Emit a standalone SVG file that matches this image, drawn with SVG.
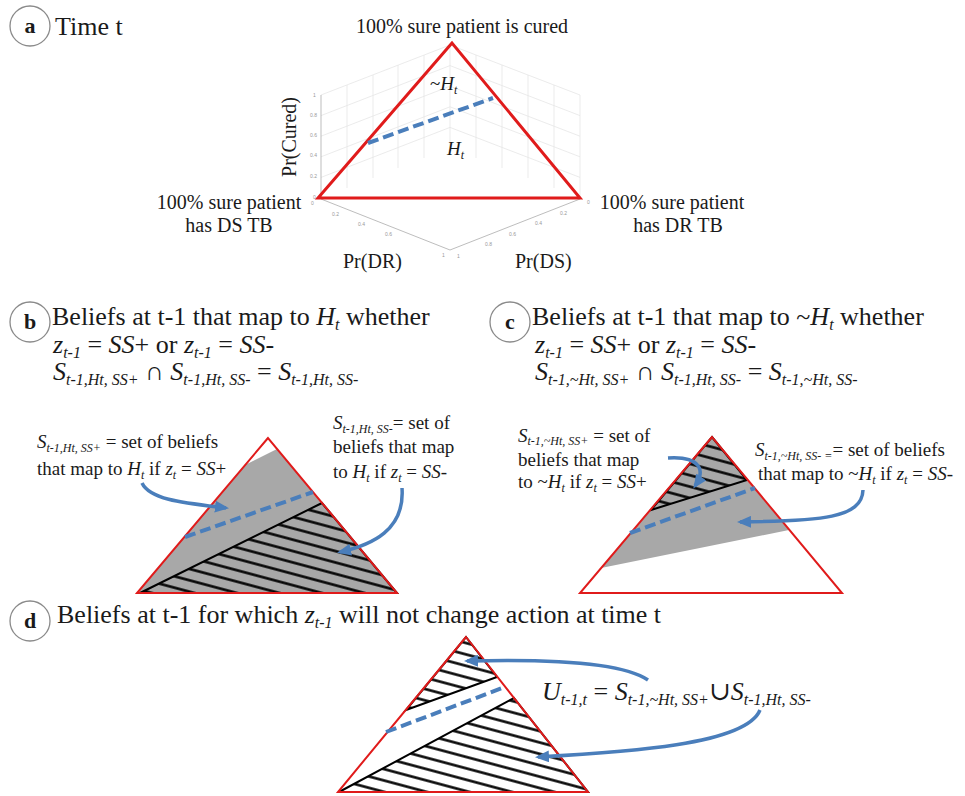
<svg xmlns="http://www.w3.org/2000/svg" width="965" height="796" viewBox="0 0 965 796">
<style>
.t{font-family:"Liberation Serif","Times New Roman","DejaVu Serif",serif;fill:#1a1a1a}
.h{font-size:26px}
.l{font-size:19px}
.m{font-size:20px}
.i{font-style:italic}
.lab{font-size:22px;font-weight:bold;text-anchor:middle}
.circ{fill:none;stroke:#8a8a8a;stroke-width:1.3}
.tri{fill:none;stroke:#e01b1b;stroke-width:2}
.dash{stroke:#4a7ebb;stroke-width:4;stroke-dasharray:11 5;fill:none}
.arr{stroke:#4a7ebb;stroke-width:3.5;fill:none;marker-end:url(#ah)}
.gray{fill:#a8a8a8}
.hatch{fill:url(#hp);stroke:#000;stroke-width:2}
.grid{stroke:#e6e6e6;stroke-width:0.8;fill:none}
.ax{stroke:#b5b5b5;stroke-width:0.9;fill:none}
.tick{font-family:"Liberation Sans",Arial,sans-serif;font-size:5px;fill:#999}
</style>
<defs>
<pattern id="hp" patternUnits="userSpaceOnUse" width="40" height="11" patternTransform="rotate(15)">
<line x1="-5" y1="5.5" x2="45" y2="5.5" stroke="#000" stroke-width="2.6"/>
</pattern>
<marker id="ah" markerUnits="userSpaceOnUse" markerWidth="14" markerHeight="12" refX="11" refY="6" orient="auto">
<path d="M0,0 L14,6 L0,12 z" fill="#4a7ebb"/>
</marker>
</defs>

<g id="panel-a">
<circle class="circ" cx="30" cy="26" r="20"/>
<text class="t lab" x="30" y="33">a</text>
<text class="t h" x="55" y="35">Time t</text>
<g id="axes-a">
<path class="grid" d="M321,177.4 L450,127.4 L580,177.4 M321,156.8 L450,106.8 L580,156.8 M321,136.2 L450,86.2 L580,136.2 M321,115.6 L450,65.6 L580,115.6 M321,95 L450,45 L580,95 M450,45 L450,148 M347,188 L347,85 M373,178 L373,75 M398,168 L398,65 M424,158 L424,55 M476,158 L476,55 M502,168 L502,65 M528,178 L528,75 M554,188 L554,85 M580,95 L580,198"/>
<path class="ax" d="M321,95 L321,198 M321,199 L450,250 L580,199"/>
<text class="tick" x="313" y="97">1</text>
<text class="tick" x="310" y="117">0.8</text>
<text class="tick" x="310" y="137">0.6</text>
<text class="tick" x="310" y="157">0.4</text>
<text class="tick" x="310" y="178">0.2</text>
<text class="tick" x="313" y="199">0</text>
<text class="tick" x="311" y="205">0</text>
<text class="tick" x="332" y="216">0.2</text>
<text class="tick" x="358" y="226">0.4</text>
<text class="tick" x="385" y="236">0.6</text>
<text class="tick" x="442" y="257">1</text>
<text class="tick" x="587" y="204">0</text>
<text class="tick" x="560" y="215">0.2</text>
<text class="tick" x="535" y="225">0.4</text>
<text class="tick" x="509" y="236">0.6</text>
<text class="tick" x="485" y="246">0.8</text>
<text class="tick" x="457" y="258">1</text>
</g>
<path class="tri" style="stroke-width:3" d="M452,43 L318,198 L580,198 Z"/>
<line class="dash" x1="368" y1="143" x2="493" y2="98"/>
<text class="t l" x="430" y="90">~<tspan class="i">H</tspan><tspan class="i" font-size="12" dy="4">t</tspan></text>
<text class="t l" x="447" y="155"><tspan class="i">H</tspan><tspan class="i" font-size="12" dy="4">t</tspan></text>
<text class="t m" x="462" y="33" text-anchor="middle">100% sure patient is cured</text>
<text class="t m" x="229" y="209" text-anchor="middle">100% sure patient</text>
<text class="t m" x="229" y="232" text-anchor="middle">has DS TB</text>
<text class="t m" x="672" y="209" text-anchor="middle">100% sure patient</text>
<text class="t m" x="678" y="232" text-anchor="middle">has DR TB</text>
<text class="t m" transform="translate(296,137) rotate(-90)" text-anchor="middle">Pr(Cured)</text>
<text class="t m" x="343" y="268">Pr(DR)</text>
<text class="t m" x="515" y="268">Pr(DS)</text>
</g>

<g id="panel-b">
<circle class="circ" cx="30" cy="322" r="20"/>
<text class="t lab" x="30" y="329">b</text>
<text class="t h" x="52" y="325">Beliefs at t-1 that map to <tspan class="i">H</tspan><tspan class="i" font-size="16" dy="5">t</tspan><tspan dy="-5"> whether</tspan></text>
<text class="t h" x="53" y="353"><tspan class="i">z</tspan><tspan class="i" font-size="16" dy="5">t-1</tspan><tspan dy="-5"> = </tspan><tspan class="i">SS</tspan>+ or <tspan class="i">z</tspan><tspan class="i" font-size="16" dy="5">t-1</tspan><tspan dy="-5"> = </tspan><tspan class="i">SS</tspan>-</text>
<text class="t h" x="53" y="380"><tspan class="i">S</tspan><tspan class="i" font-size="16" dy="5">t-1,Ht, SS+</tspan><tspan dy="-5"> ∩ </tspan><tspan class="i">S</tspan><tspan class="i" font-size="16" dy="5">t-1,Ht, SS-</tspan><tspan dy="-5"> = </tspan><tspan class="i">S</tspan><tspan class="i" font-size="16" dy="5">t-1,Ht, SS-</tspan></text>
<polygon class="gray" points="277,449 245,465 137,593 397,593"/>
<polygon class="hatch" points="322,503 140,593 397,593"/>
<path class="tri" d="M268,438 L137,593 L397,593 Z"/>
<line class="dash" x1="185" y1="537" x2="313" y2="492"/>
<text class="t l" x="37" y="448"><tspan class="i">S</tspan><tspan class="i" font-size="12" dy="4">t-1,Ht, SS+</tspan><tspan dy="-4"> = set of beliefs</tspan></text>
<text class="t l" x="37" y="475">that map to <tspan class="i">H</tspan><tspan class="i" font-size="12" dy="4">t</tspan><tspan dy="-4"> if </tspan><tspan class="i">z</tspan><tspan class="i" font-size="12" dy="4">t</tspan><tspan dy="-4"> = </tspan><tspan class="i">SS</tspan>+</text>
<text class="t l" x="333" y="429"><tspan class="i">S</tspan><tspan class="i" font-size="12" dy="4">t-1,Ht, SS-</tspan><tspan dy="-4">= set of</tspan></text>
<text class="t l" x="333" y="453">beliefs that map</text>
<text class="t l" x="333" y="478">to <tspan class="i">H</tspan><tspan class="i" font-size="12" dy="4">t</tspan><tspan dy="-4"> if </tspan><tspan class="i">z</tspan><tspan class="i" font-size="12" dy="4">t</tspan><tspan dy="-4"> = </tspan><tspan class="i">SS</tspan>-</text>
</g>

<g id="panel-c">
<circle class="circ" cx="510" cy="322" r="20"/>
<text class="t lab" x="510" y="329">c</text>
<text class="t h" x="532" y="325">Beliefs at t-1 that map to ~<tspan class="i">H</tspan><tspan class="i" font-size="16" dy="5">t</tspan><tspan dy="-5"> whether</tspan></text>
<text class="t h" x="535" y="353"><tspan class="i">z</tspan><tspan class="i" font-size="16" dy="5">t-1</tspan><tspan dy="-5"> = </tspan><tspan class="i">SS</tspan>+ or <tspan class="i">z</tspan><tspan class="i" font-size="16" dy="5">t-1</tspan><tspan dy="-5"> = </tspan><tspan class="i">SS</tspan>-</text>
<text class="t h" x="535" y="380"><tspan class="i">S</tspan><tspan class="i" font-size="16" dy="5">t-1,~Ht, SS+</tspan><tspan dy="-5"> ∩ </tspan><tspan class="i">S</tspan><tspan class="i" font-size="16" dy="5">t-1,Ht, SS-</tspan><tspan dy="-5"> = </tspan><tspan class="i">S</tspan><tspan class="i" font-size="16" dy="5">t-1,~Ht, SS-</tspan></text>
<polygon class="gray" points="651,510 747,480 789,530 601,568"/>
<polygon class="gray" points="712,437 747,480 651,510"/>
<polygon class="hatch" points="712,437 747,480 651,510"/>
<path class="tri" d="M712,437 L580,593 L842,593 Z"/>
<line class="dash" x1="630" y1="533" x2="755" y2="488"/>
<text class="t l" x="518" y="442"><tspan class="i">S</tspan><tspan class="i" font-size="12" dy="3">t-1,~Ht, SS+</tspan><tspan dy="-3"> = set of</tspan></text>
<text class="t l" x="518" y="466">beliefs that map</text>
<text class="t l" x="518" y="488">to ~<tspan class="i">H</tspan><tspan class="i" font-size="12" dy="4">t</tspan><tspan dy="-4"> if </tspan><tspan class="i">z</tspan><tspan class="i" font-size="12" dy="4">t</tspan><tspan dy="-4"> = </tspan><tspan class="i">SS</tspan>+</text>
<text class="t l" x="755" y="456"><tspan class="i">S</tspan><tspan class="i" font-size="12" dy="4">t-1,~Ht, SS- =</tspan><tspan dy="-4">= set of beliefs</tspan></text>
<text class="t l" x="758" y="480">that map to ~<tspan class="i">H</tspan><tspan class="i" font-size="12" dy="4">t</tspan><tspan dy="-4"> if </tspan><tspan class="i">z</tspan><tspan class="i" font-size="12" dy="4">t</tspan><tspan dy="-4"> = </tspan><tspan class="i">SS</tspan>-</text>
</g>

<g id="panel-d">
<circle class="circ" cx="30" cy="621" r="20"/>
<text class="t lab" x="30" y="628">d</text>
<text class="t h" x="57" y="623">Beliefs at t-1 for which <tspan class="i">z</tspan><tspan class="i" font-size="16" dy="5">t-1</tspan><tspan dy="-5"> will not change action at time t</tspan></text>
<polygon class="hatch" points="466,637 497,677 406,710"/>
<polygon class="hatch" points="514,698 588,792 339,792"/>
<path class="tri" d="M466,637 L338,792 L588,792 Z"/>
<line class="dash" x1="386" y1="732" x2="505" y2="687"/>
<text class="t h" x="542" y="700"><tspan class="i">U</tspan><tspan class="i" font-size="16" dy="5">t-1,t</tspan><tspan dy="-5"> = </tspan><tspan class="i">S</tspan><tspan class="i" font-size="16" dy="5">t-1,~Ht, SS+</tspan><tspan dy="-5">∪</tspan><tspan class="i">S</tspan><tspan class="i" font-size="16" dy="5">t-1,Ht, SS-</tspan></text>
</g>

<g id="connectors">
<path class="arr" d="M142,483 C150,500 185,503 226,508"/>
<path class="arr" d="M402,488 C405,530 372,545 340,552"/>
<path class="arr" d="M668,458 C700,456 706,470 695,486"/>
<path class="arr" d="M863,490 C862,518 822,521 740,522"/>
<path class="arr" d="M648,680 C622,662 545,659 467,661"/>
<path class="arr" d="M760,710 C746,745 625,752 538,757"/>
</g>
</svg>
